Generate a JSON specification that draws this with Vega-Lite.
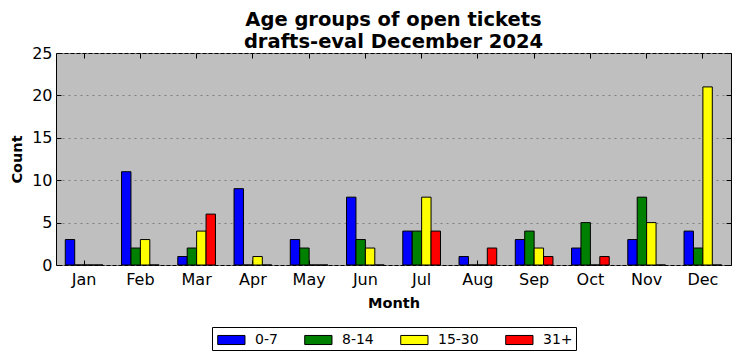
{
  "$schema": "https://vega.github.io/schema/vega-lite/v6.json",
  "width": 675,
  "height": 212,
  "autosize": "none",
  "padding": {"left": 56, "top": 53, "right": 11, "bottom": 96},
  "background": "white",
  "title": {
    "text": ["Age groups of open tickets", "drafts-eval December 2024"],
    "fontSize": 19.5,
    "font": "DejaVu Sans",
    "fontWeight": "bold",
    "lineHeight": 22,
    "offset": -16,
    "color": "black",
    "anchor": "middle"
  },
  "config": {
    "view": {"fill": "#bfbfbf", "stroke": "black", "strokeWidth": 1},
    "font": "DejaVu Sans"
  },
  "data": {
    "values": [
      {"month": "Jan", "group": "0-7", "count": 3}, {"month": "Jan", "group": "8-14", "count": 0}, {"month": "Jan", "group": "15-30", "count": 0}, {"month": "Jan", "group": "31+", "count": 0},
      {"month": "Feb", "group": "0-7", "count": 11}, {"month": "Feb", "group": "8-14", "count": 2}, {"month": "Feb", "group": "15-30", "count": 3}, {"month": "Feb", "group": "31+", "count": 0},
      {"month": "Mar", "group": "0-7", "count": 1}, {"month": "Mar", "group": "8-14", "count": 2}, {"month": "Mar", "group": "15-30", "count": 4}, {"month": "Mar", "group": "31+", "count": 6},
      {"month": "Apr", "group": "0-7", "count": 9}, {"month": "Apr", "group": "8-14", "count": 0}, {"month": "Apr", "group": "15-30", "count": 1}, {"month": "Apr", "group": "31+", "count": 0},
      {"month": "May", "group": "0-7", "count": 3}, {"month": "May", "group": "8-14", "count": 2}, {"month": "May", "group": "15-30", "count": 0}, {"month": "May", "group": "31+", "count": 0},
      {"month": "Jun", "group": "0-7", "count": 8}, {"month": "Jun", "group": "8-14", "count": 3}, {"month": "Jun", "group": "15-30", "count": 2}, {"month": "Jun", "group": "31+", "count": 0},
      {"month": "Jul", "group": "0-7", "count": 4}, {"month": "Jul", "group": "8-14", "count": 4}, {"month": "Jul", "group": "15-30", "count": 8}, {"month": "Jul", "group": "31+", "count": 4},
      {"month": "Aug", "group": "0-7", "count": 1}, {"month": "Aug", "group": "8-14", "count": 0}, {"month": "Aug", "group": "15-30", "count": 0}, {"month": "Aug", "group": "31+", "count": 2},
      {"month": "Sep", "group": "0-7", "count": 3}, {"month": "Sep", "group": "8-14", "count": 4}, {"month": "Sep", "group": "15-30", "count": 2}, {"month": "Sep", "group": "31+", "count": 1},
      {"month": "Oct", "group": "0-7", "count": 2}, {"month": "Oct", "group": "8-14", "count": 5}, {"month": "Oct", "group": "15-30", "count": 0}, {"month": "Oct", "group": "31+", "count": 1},
      {"month": "Nov", "group": "0-7", "count": 3}, {"month": "Nov", "group": "8-14", "count": 8}, {"month": "Nov", "group": "15-30", "count": 5}, {"month": "Nov", "group": "31+", "count": 0},
      {"month": "Dec", "group": "0-7", "count": 4}, {"month": "Dec", "group": "8-14", "count": 2}, {"month": "Dec", "group": "15-30", "count": 21}, {"month": "Dec", "group": "31+", "count": 0}
    ]
  },
  "layer": [
    {
      "mark": {"type": "bar", "stroke": "black", "strokeWidth": 1},
      "encoding": {
        "x": {
          "field": "month", "type": "nominal",
          "sort": ["Jan","Feb","Mar","Apr","May","Jun","Jul","Aug","Sep","Oct","Nov","Dec"],
          "scale": {"paddingInner": 0.33, "paddingOuter": 0.165},
          "axis": {
            "title": "Month", "titleFontSize": 14.5, "titleFontWeight": "bold", "titleColor": "black", "titlePadding": 9,
            "labelAngle": 0, "labelFontSize": 16, "labelColor": "black", "labelPadding": 11,
            "tickSize": -5, "tickColor": "black", "domain": false, "grid": false
          }
        },
        "xOffset": {"field": "group", "type": "nominal", "sort": ["0-7","8-14","15-30","31+"], "scale": {"paddingInner": 0, "paddingOuter": 0}},
        "y": {
          "field": "count", "type": "quantitative",
          "scale": {"domain": [0, 25], "nice": false},
          "axis": {
            "title": "Count", "titleFontSize": 14.5, "titleFontWeight": "bold", "titleColor": "black", "titlePadding": 7,
            "values": [0,5,10,15,20,25], "labelFontSize": 16, "labelColor": "black", "labelPadding": 9,
            "tickSize": -5, "tickColor": "black", "domain": false,
            "grid": true, "gridColor": "#7f7f7f", "gridDash": [2, 4], "gridWidth": 1
          }
        },
        "color": {
          "field": "group", "type": "nominal",
          "scale": {"domain": ["0-7","8-14","15-30","31+"], "range": ["#0000ff","#008000","#ffff00","#ff0000"]},
          "legend": {
            "title": null, "orient": "none", "direction": "horizontal",
            "legendX": 156, "legendY": 274,
            "strokeColor": "black", "fillColor": "white", "padding": 3, "cornerRadius": 0,
            "symbolType": "M-0.8,-0.5H2.2V0.5H-0.8Z", "symbolSize": 330,
            "symbolStrokeColor": "black", "symbolStrokeWidth": 1, "symbolOpacity": 1,
            "labelFontSize": 14, "labelColor": "black", "labelOffset": 20, "columnPadding": 24
          }
        }
      }
    },
    {
      "mark": {"type": "bar", "opacity": 0},
      "encoding": {
        "x": {
          "field": "month", "type": "nominal",
          "sort": ["Jan","Feb","Mar","Apr","May","Jun","Jul","Aug","Sep","Oct","Nov","Dec"],
          "axis": {"orient": "top", "title": null, "labels": false, "tickSize": -5, "tickColor": "black", "domain": false, "grid": false}
        },
        "y": {
          "field": "count", "type": "quantitative",
          "axis": {"orient": "right", "title": null, "labels": false, "values": [0,5,10,15,20,25], "tickSize": -5, "tickColor": "black", "domain": false, "grid": false}
        }
      }
    }
  ],
  "resolve": {"axis": {"x": "independent", "y": "independent"}}
}
